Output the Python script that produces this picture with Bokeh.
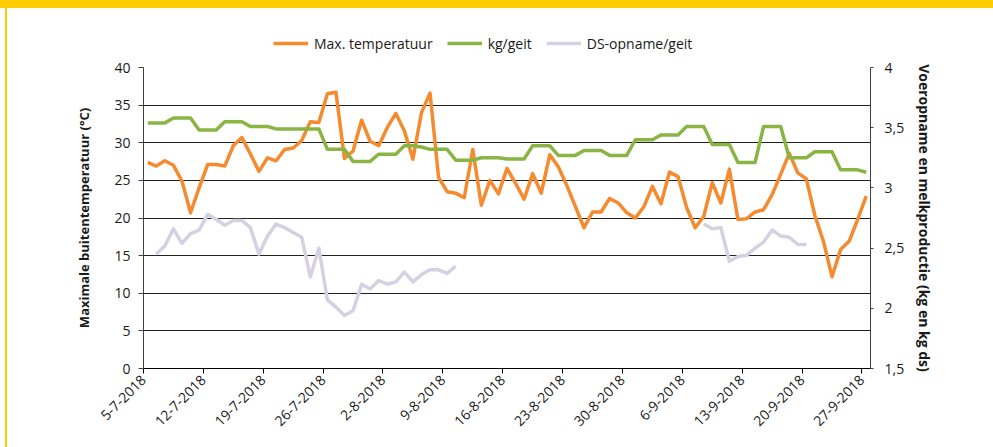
import numpy as np
from bokeh.plotting import figure
from bokeh.layouts import column
from bokeh.models import (Range1d, LinearAxis, FixedTicker, Legend, LegendItem,
                          GlobalInlineStyleSheet)
from bokeh.embed import file_html
from bokeh.resources import INLINE

# ---------------- data ----------------
date_labels = ["5-7-2018", "12-7-2018", "19-7-2018", "26-7-2018", "2-8-2018",
               "9-8-2018", "16-8-2018", "23-8-2018", "30-8-2018", "6-9-2018",
               "13-9-2018", "20-9-2018", "27-9-2018"]

max_temp = [27.4, 26.9, 27.6, 27.0, 24.9, 20.7, 24.0, 27.1, 27.1, 26.9,
            29.6, 30.7, 28.5, 26.2, 28.0, 27.6, 29.1, 29.3, 30.3, 32.8,
            32.7, 36.5, 36.7, 27.9, 28.9, 33.0, 30.2, 29.6, 32.0, 33.9,
            31.6, 27.8, 34.0, 36.6, 25.4, 23.5, 23.3, 22.7, 29.1, 21.7,
            25.0, 23.2, 26.6, 24.6, 22.5, 25.9, 23.3, 28.4, 26.8, 24.3,
            21.5, 18.7, 20.8, 20.8, 22.6, 22.0, 20.7, 20.0, 21.5, 24.2,
            21.9, 26.1, 25.5, 21.4, 18.7, 20.2, 24.7, 22.0, 26.5, 19.8,
            19.9, 20.8, 21.1, 23.1, 25.8, 28.6, 26.0, 25.2, 20.3, 16.9,
            12.2, 15.8, 16.9, 19.8, 22.9]

kg_geit = [3.54, 3.54, 3.54, 3.58, 3.58, 3.58, 3.48, 3.48, 3.48, 3.55,
           3.55, 3.55, 3.51, 3.51, 3.51, 3.49, 3.49, 3.49, 3.49, 3.49,
           3.49, 3.32, 3.32, 3.32, 3.22, 3.22, 3.22, 3.28, 3.28, 3.28,
           3.35, 3.35, 3.34, 3.32, 3.32, 3.32, 3.23, 3.23, 3.23, 3.25,
           3.25, 3.25, 3.24, 3.24, 3.24, 3.35, 3.35, 3.35, 3.27, 3.27,
           3.27, 3.31, 3.31, 3.31, 3.27, 3.27, 3.27, 3.40, 3.40, 3.40,
           3.44, 3.44, 3.44, 3.51, 3.51, 3.51, 3.36, 3.36, 3.36, 3.21,
           3.21, 3.21, 3.51, 3.51, 3.51, 3.25, 3.25, 3.25, 3.30, 3.30,
           3.30, 3.15, 3.15, 3.15, 3.13]

ds_opname = [None, 2.45, 2.52, 2.66, 2.54, 2.62, 2.65, 2.78, 2.74, 2.69,
             2.73, 2.73, 2.67, 2.45, 2.60, 2.70, 2.67, 2.63, 2.59, 2.26,
             2.50, 2.07, 2.01, 1.94, 1.98, 2.20, 2.16, 2.23, 2.20, 2.22,
             2.30, 2.22, 2.28, 2.32, 2.32, 2.29, 2.35, None, None, None,
             None, None, None, None, None, None, None, None, None, None,
             None, None, None, None, None, None, None, None, None, None,
             None, None, None, None, None, 2.70, 2.66, 2.67, 2.39, 2.43,
             2.44, 2.50, 2.55, 2.65, 2.60, 2.59, 2.53, 2.53, None, None,
             None, None, None, None, None]

left_ticks = [0, 5, 10, 15, 20, 25, 30, 35, 40]
right_ticks = [1.5, 2, 2.5, 3, 3.5, 4]
right_tick_labels = ["1,5", "2", "2,5", "3", "3,5", "4"]

series_names = ["Max. temperatuur", "kg/geit", "DS-opname/geit"]
series_colors = ["#F58A2E", "#8AB443", "#D5D1E3"]

# ---------------- styling constants ----------------
days = np.arange(len(max_temp))
FONT = "Open Sans"
TXT = "#1a1a1a"
LW = 3.5

# ---------------- legend strip (top) ----------------
lf = figure(width=993, height=59, output_backend="svg", toolbar_location=None,
            x_axis_location=None, y_axis_location=None,
            x_range=Range1d(0, 1), y_range=Range1d(0, 1),
            min_border=0, border_fill_alpha=0, background_fill_alpha=0)
lf.outline_line_color = None
lf.xgrid.visible = False
lf.ygrid.visible = False
# legend-only renderers (no visible data)
dummies = [lf.line(x=[np.nan], y=[np.nan], line_color=c, line_width=LW)
           for c in series_colors]
legend = Legend(items=[LegendItem(label=n, renderers=[r]) for n, r in zip(series_names, dummies)],
                orientation="horizontal", location=(130, 6),
                glyph_width=35, glyph_height=20, label_standoff=6, spacing=14,
                padding=0, margin=0, border_line_color=None,
                background_fill_alpha=0,
                label_text_font=FONT, label_text_font_size="14px",
                label_text_color=TXT)
lf.add_layout(legend, "center")

# ---------------- main chart ----------------
p = figure(width=993, height=388,
           x_range=Range1d(-0.5, len(max_temp) - 0.5),
           y_range=Range1d(left_ticks[0], left_ticks[-1]),
           output_backend="svg", toolbar_location=None,
           min_border_left=143, min_border_right=123,
           min_border_top=8, min_border_bottom=79,
           background_fill_color="white", border_fill_alpha=0)
p.outline_line_color = None
p.extra_y_ranges = {"r": Range1d(right_ticks[0], right_ticks[-1])}

p.xgrid.visible = False
p.ygrid.grid_line_color = "#222222"
p.ygrid.grid_line_width = 1

# left axis
ya = p.yaxis[0]
ya.ticker = FixedTicker(ticks=left_ticks)
ya.axis_label = "Maximale buitentemperatuur (°C)"
ya.axis_label_text_font = FONT
ya.axis_label_text_font_style = "bold"
ya.axis_label_text_font_size = "13px"
ya.axis_label_text_color = TXT
ya.axis_label_standoff = 18
ya.major_label_text_font = FONT
ya.major_label_text_font_size = "14px"
ya.major_label_text_color = TXT
ya.major_label_standoff = 8
ya.major_tick_in = 0
ya.major_tick_out = 5
ya.minor_tick_in = 0
ya.minor_tick_out = 0
ya.axis_line_color = "#404040"
ya.major_tick_line_color = "#404040"

# bottom axis
tick_pos = [i * 7 - 0.5 for i in range(len(date_labels))]
xa = p.xaxis[0]
xa.ticker = FixedTicker(ticks=tick_pos)
xa.major_label_overrides = {t: lab for t, lab in zip(tick_pos, date_labels)}
xa.major_label_orientation = np.pi / 4
xa.major_label_text_font = FONT
xa.major_label_text_font_size = "14px"
xa.major_label_text_color = TXT
xa.major_label_standoff = 4
xa.major_tick_in = 0
xa.major_tick_out = 5
xa.minor_tick_in = 0
xa.minor_tick_out = 0
xa.axis_line_color = "#000000"
xa.major_tick_line_color = "#000000"

# right axis
ra = LinearAxis(y_range_name="r", ticker=FixedTicker(ticks=right_ticks),
                major_label_overrides={t: lab for t, lab in zip(right_ticks, right_tick_labels)})
ra.axis_label = "Voeropname en melkproductie (kg en kg ds)"
ra.axis_label_text_font = FONT
ra.axis_label_text_font_style = "bold"
ra.axis_label_text_font_size = "14px"
ra.axis_label_text_color = TXT
ra.axis_label_standoff = 8
ra.major_label_text_font = FONT
ra.major_label_text_font_size = "14px"
ra.major_label_text_color = TXT
ra.major_label_standoff = 11
ra.major_tick_in = 0
ra.major_tick_out = 3
ra.minor_tick_in = 0
ra.minor_tick_out = 0
ra.axis_line_color = "#404040"
ra.major_tick_line_color = "#404040"
p.add_layout(ra, "right")

# series
p.line(days, max_temp, line_color=series_colors[0], line_width=LW, line_join="round")
p.line(days, kg_geit, line_color=series_colors[1], line_width=LW, line_join="round",
       y_range_name="r")
p.line(days, np.array(ds_opname, dtype=float), line_color=series_colors[2],
       line_width=LW, line_join="round", y_range_name="r")

page = column(lf, p, spacing=0)
page.stylesheets = [GlobalInlineStyleSheet(css=(
    "html{background:"
    "linear-gradient(#FFCC00,#FFCC00) 0 0/100% 8px no-repeat,"
    "linear-gradient(#FFCC00,#FFCC00) 5px 0/2px 100% no-repeat,#ffffff;}"))]

open("out.html", "w").write(file_html(page, INLINE))
